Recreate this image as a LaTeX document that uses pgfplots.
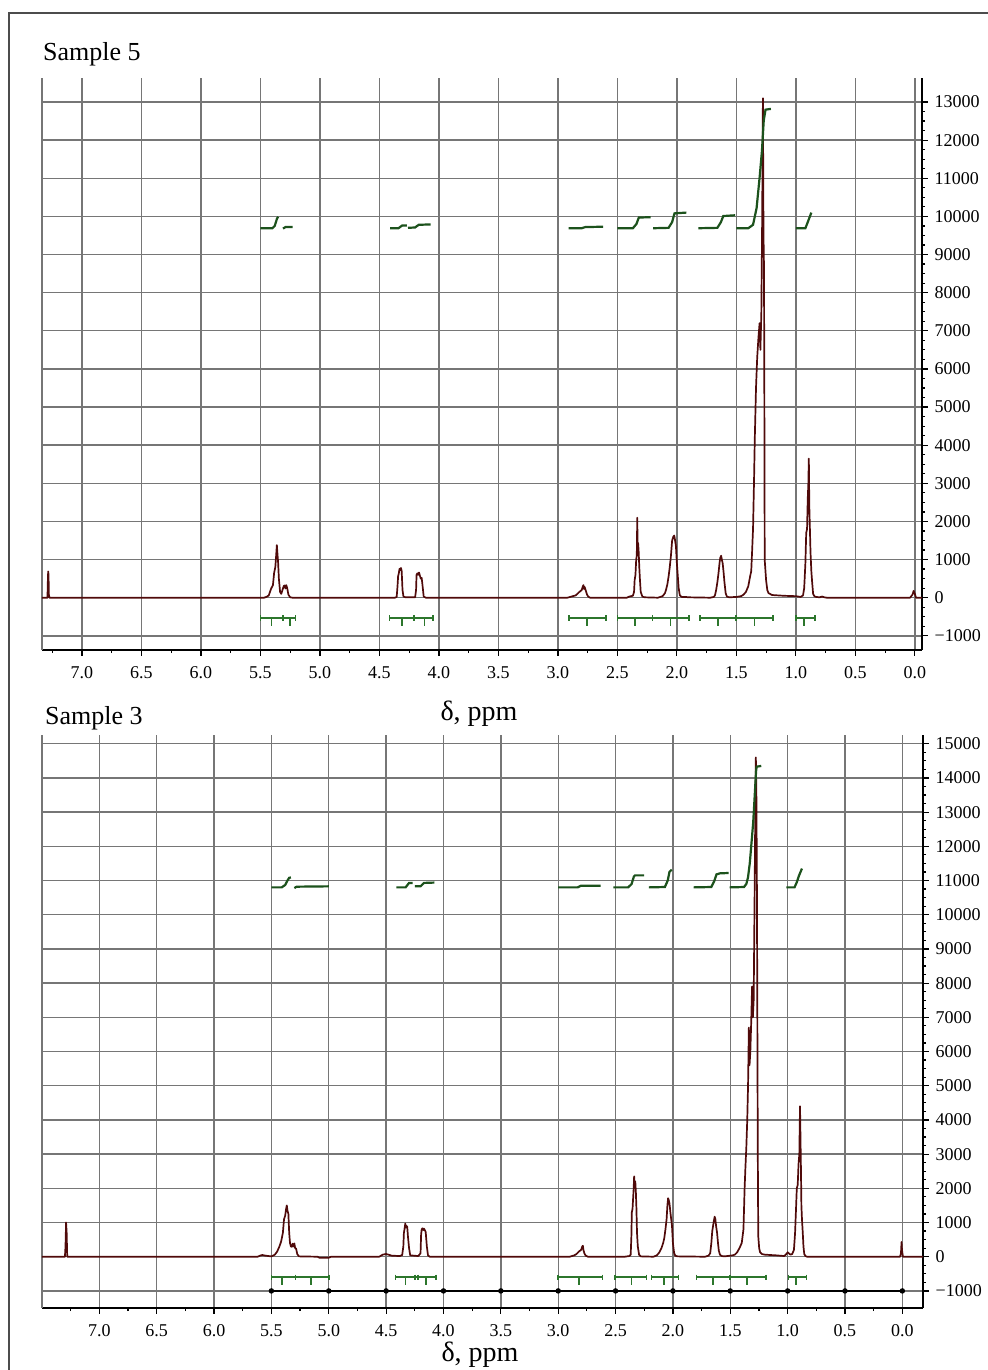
\documentclass[border=0pt]{standalone}
\usepackage{fontspec}
\setmainfont{Liberation Serif}
\usepackage{pgfplots}
\pgfplotsset{compat=1.18}

\definecolor{gridgray}{RGB}{118,118,118}
\definecolor{specred}{RGB}{80,10,10}
\definecolor{intgreen}{RGB}{28,82,28}
\definecolor{brkgreen}{RGB}{44,118,44}

\pgfplotsset{
  nmr/.style={
    scale only axis,
    x dir=reverse,
    axis x line*=bottom,
    axis y line*=right,
    axis line style={-, black, line width=1.4pt},
    tick align=outside,
    tick style={black, line width=0.6pt},
    major tick length=2.8pt,
    minor tick length=1.6pt,
    scaled y ticks=false,
    xtick={0,0.5,1,1.5,2,2.5,3,3.5,4,4.5,5,5.5,6,6.5,7},
    xticklabels={0.0,0.5,1.0,1.5,2.0,2.5,3.0,3.5,4.0,4.5,5.0,5.5,6.0,6.5,7.0},
    minor xtick={0.25,0.75,1.25,1.75,2.25,2.75,3.25,3.75,4.25,4.75,5.25,5.75,6.25,6.75,7.25},
    minor y tick num=3,
    grid=major,
    major grid style={gridgray, line width=0.7pt},
    ticklabel style={font=\fontsize{9}{10}\selectfont},
    xticklabel style={yshift=-2pt},
    extra x tick labels={},
    extra x tick style={grid=major, major tick length=0pt},
    unbounded coords=jump,
  },
  spec/.style={specred, line width=0.85pt, line join=round},
  integ/.style={intgreen, line width=1.1pt},
  brk/.style={brkgreen, line width=0.8pt},
  cap/.style={brkgreen, only marks, mark=|, mark size=1.3pt, mark options={line width=0.8pt}},
}

\begin{document}
\begin{tikzpicture}
\useasboundingbox (0,0) rectangle (494pt,-685pt);
\draw[gray!60!black, line width=1pt] (4.5pt,-685pt) -- (4.5pt,-6.5pt) -- (494pt,-6.5pt);

% ---------------- Sample 5 ----------------
\begin{axis}[nmr,
  at={(21pt,-325pt)}, anchor=south west,
  width=440pt, height=286pt,
  xmin=-0.06, xmax=7.336,
  ymin=-1372, ymax=13630,
  ytick={-1000,0,1000,2000,3000,4000,5000,6000,7000,8000,9000,10000,11000,12000,13000},
  yticklabels={−1000,0,1000,2000,3000,4000,5000,6000,7000,8000,9000,10000,11000,12000,13000},
  extra x ticks={7.336},
]
\addplot[spec] coordinates {
(7.336,0)(7.29,0)(7.287,400)(7.284,690)(7.281,600)(7.278,80)(7.274,0)
(5.47,0)(5.45,20)(5.43,60)(5.41,240)(5.395,330)(5.385,650)(5.375,800)(5.368,1100)(5.362,1380)(5.357,1150)(5.352,950)(5.345,500)(5.335,150)(5.325,100)(5.315,200)(5.305,300)(5.298,320)(5.29,240)(5.283,330)(5.275,250)(5.265,80)(5.25,10)(5.23,0)
(4.37,0)(4.355,20)(4.348,300)(4.343,560)(4.337,640)(4.331,760)(4.325,720)(4.319,780)(4.313,700)(4.306,200)(4.298,30)(4.28,10)
(4.20,10)(4.192,200)(4.188,600)(4.181,640)(4.174,600)(4.167,660)(4.16,580)(4.152,500)(4.145,520)(4.137,300)(4.128,30)(4.11,0)
(2.92,0)(2.875,40)(2.85,60)(2.82,150)(2.80,200)(2.79,300)(2.785,330)(2.78,230)(2.775,280)(2.765,180)(2.755,80)(2.745,30)(2.73,0)
(2.42,0)(2.40,30)(2.37,50)(2.36,150)(2.355,460)(2.348,600)(2.342,1000)(2.337,1100)(2.333,2100)(2.33,1300)(2.326,1440)(2.321,1200)(2.316,800)(2.311,500)(2.304,150)(2.29,30)(2.27,10)
(2.16,0)(2.12,40)(2.10,120)(2.09,220)(2.08,350)(2.07,550)(2.06,800)(2.05,1100)(2.04,1500)(2.03,1600)(2.022,1630)(2.015,1500)(2.008,1350)(2.00,900)(1.993,600)(1.985,250)(1.975,60)(1.96,20)(1.93,20)(1.90,10)
(1.72,0)(1.69,20)(1.68,60)(1.67,200)(1.66,400)(1.65,650)(1.64,950)(1.635,1050)(1.628,1100)(1.622,1000)(1.615,900)(1.607,650)(1.60,400)(1.59,120)(1.58,30)(1.56,10)(1.50,20)
(1.46,40)(1.44,80)(1.42,150)(1.40,300)(1.385,550)(1.375,700)(1.368,1200)(1.36,1800)(1.352,3000)(1.345,4200)(1.335,5500)(1.325,6300)(1.315,6800)(1.305,7200)(1.298,6500)(1.29,7500)(1.283,10000)(1.277,13100)(1.272,9500)(1.268,8700)(1.265,5500)(1.262,1000)(1.25,450)(1.24,200)(1.23,120)(1.20,70)(1.10,50)(1.00,40)
(0.96,20)(0.94,60)(0.93,250)(0.92,900)(0.913,1700)(0.906,1800)(0.90,2600)(0.895,3000)(0.891,3650)(0.887,2400)(0.882,1800)(0.877,1200)(0.87,700)(0.863,400)(0.855,100)(0.845,40)(0.83,20)(0.80,10)(0.78,30)(0.76,10)(0.74,0)
(0.04,0)(0.02,80)(0.01,180)(0.0,100)(-0.01,0)(-0.06,0)
};
\addplot[integ] coordinates {
(5.50,9690)(5.40,9690)(5.38,9750)(5.36,9950)(5.35,9990)
(5.34,nan)
(5.31,9680)(5.29,9720)(5.23,9720)
(5.2,nan)
(4.41,9690)(4.34,9690)(4.31,9760)(4.27,9760)
(4.265,nan)
(4.26,9700)(4.20,9710)(4.17,9780)(4.07,9790)
(4.0,nan)
(2.91,9690)(2.80,9690)(2.77,9720)(2.62,9730)
(2.6,nan)
(2.50,9690)(2.37,9690)(2.34,9800)(2.32,9970)(2.22,9980)
(2.21,nan)
(2.20,9690)(2.07,9700)(2.04,9850)(2.02,10080)(1.92,10100)
(1.9,nan)
(1.82,9690)(1.66,9700)(1.63,9850)(1.61,10010)(1.51,10030)
(1.505,nan)
(1.50,9690)(1.40,9690)(1.36,9780)(1.33,10220)(1.305,11010)(1.285,11720)(1.27,12515)(1.255,12800)(1.21,12820)
(1.1,nan)
(1.00,9690)(0.92,9690)(0.90,9850)(0.87,10100)
};
\addplot[brk] coordinates {
(5.50,-530)(5.206,-530) (5.1,nan)
(4.414,-530)(4.05,-530) (3.5,nan)
(2.907,-530)(2.598,-530) (2.55,nan)
(2.5,-530)(1.896,-530) (1.85,nan)
(1.806,-530)(1.194,-530) (1.1,nan)
(1.0,-530)(0.837,-530)
};
\addplot[brk] coordinates {
(5.406,-530)(5.406,-750) (5.4,nan)
(5.25,-530)(5.25,-750) (5.2,nan)
(4.31,-530)(4.31,-750) (4.3,nan)
(4.12,-530)(4.12,-750) (4.1,nan)
(2.753,-530)(2.753,-750) (2.7,nan)
(2.354,-530)(2.354,-750) (2.3,nan)
(2.053,-530)(2.053,-750) (2.0,nan)
(1.652,-530)(1.652,-750) (1.6,nan)
(1.348,-530)(1.348,-750) (1.3,nan)
(0.93,-530)(0.93,-750)
};
\addplot[cap] coordinates {
(5.50,-530)(5.206,-530)(5.31,-530)
(4.414,-530)(4.05,-530)(4.21,-530)
(2.907,-530)(2.598,-530)
(2.5,-530)(1.896,-530)(2.205,-530)
(1.806,-530)(1.194,-530)(1.503,-530)
(1.0,-530)(0.837,-530)
};
\end{axis}

% ---------------- Sample 3 ----------------
\begin{axis}[nmr,
  at={(21pt,-654pt)}, anchor=south west,
  width=440.5pt, height=286.5pt,
  xmin=-0.18, xmax=7.5,
  ymin=-1500, ymax=15255,
  ytick={-1000,0,1000,2000,3000,4000,5000,6000,7000,8000,9000,10000,11000,12000,13000,14000,15000},
  yticklabels={−1000,0,1000,2000,3000,4000,5000,6000,7000,8000,9000,10000,11000,12000,13000,14000,15000},
  extra x ticks={7.5},
]
\addplot[spec] coordinates {
(7.5,0)(7.30,0)(7.295,300)(7.29,1000)(7.285,700)(7.28,0)
(5.62,0)(5.60,30)(5.58,50)(5.55,30)(5.50,10)(5.47,60)(5.45,150)(5.43,300)(5.415,450)(5.40,700)(5.39,1100)(5.38,1200)(5.372,1400)(5.366,1500)(5.36,1350)(5.352,1250)(5.345,700)(5.338,400)(5.33,300)(5.322,290)(5.315,380)(5.308,300)(5.30,390)(5.293,250)(5.285,240)(5.275,80)(5.26,10)(5.10,0)(5.08,-30)(5.0,-30)(4.98,0)
(4.56,0)(4.53,60)(4.50,80)(4.45,30)(4.38,20)(4.36,50)(4.35,300)(4.345,700)(4.34,800)(4.333,970)(4.327,850)(4.322,900)(4.316,870)(4.31,600)(4.30,250)(4.29,40)(4.22,20)
(4.20,100)(4.195,650)(4.19,800)(4.183,830)(4.176,780)(4.17,820)(4.163,780)(4.155,720)(4.145,300)(4.135,40)(4.12,0)
(2.90,0)(2.86,40)(2.84,80)(2.82,150)(2.80,200)(2.79,300)(2.785,320)(2.78,200)(2.772,100)(2.76,30)(2.74,0)
(2.42,0)(2.38,20)(2.368,60)(2.362,600)(2.358,1300)(2.352,1400)(2.347,1700)(2.342,2000)(2.338,2350)(2.333,2100)(2.328,2200)(2.323,1900)(2.318,1400)(2.313,700)(2.306,300)(2.295,60)(2.28,10)
(2.17,0)(2.14,40)(2.12,120)(2.10,250)(2.085,400)(2.075,550)(2.065,800)(2.055,1100)(2.048,1500)(2.042,1710)(2.036,1650)(2.03,1560)(2.022,1300)(2.015,1100)(2.008,900)(2.0,400)(1.99,120)(1.98,30)(1.96,10)
(1.72,0)(1.69,30)(1.675,100)(1.665,400)(1.657,750)(1.65,900)(1.643,1050)(1.636,1170)(1.63,1100)(1.623,880)(1.615,700)(1.607,400)(1.60,180)(1.59,60)(1.575,20)(1.55,10)
(1.48,40)(1.46,60)(1.44,130)(1.42,250)(1.40,400)(1.385,800)(1.375,2000)(1.368,2600)(1.36,3200)(1.352,4000)(1.345,5000)(1.338,6700)(1.332,5600)(1.325,6000)(1.318,6800)(1.31,7900)(1.303,7000)(1.296,7500)(1.288,10500)(1.282,13000)(1.277,14600)(1.272,13400)(1.268,11000)(1.264,7000)(1.26,3000)(1.256,600)(1.248,250)(1.24,130)(1.225,80)(1.20,60)(1.10,40)
(1.03,20)(1.01,80)(1.0,130)(0.99,100)(0.975,60)(0.96,80)(0.945,200)(0.935,700)(0.928,1300)(0.92,2000)(0.912,2100)(0.905,2700)(0.898,3000)(0.892,4400)(0.888,3500)(0.884,2600)(0.88,1500)(0.875,1100)(0.868,700)(0.862,300)(0.855,80)(0.845,20)(0.83,0)
(0.02,0)(0.012,100)(0.007,430)(0.003,200)(-0.005,0)(-0.18,0)
};
\addplot[integ] coordinates {
(5.50,10800)(5.41,10800)(5.38,10870)(5.36,11000)(5.345,11080)(5.33,11090)
(5.32,nan)
(5.30,10780)(5.28,10820)(5.00,10830)
(4.9,nan)
(4.41,10800)(4.33,10800)(4.30,10930)(4.27,10930)
(4.26,nan)
(4.25,10830)(4.20,10830)(4.17,10930)(4.08,10940)
(3.5,nan)
(3.00,10800)(2.83,10800)(2.80,10850)(2.63,10850)
(2.6,nan)
(2.52,10800)(2.39,10800)(2.36,10900)(2.34,11120)(2.33,11150)(2.25,11150)
(2.22,nan)
(2.21,10800)(2.07,10810)(2.045,11000)(2.03,11250)(2.01,11320)
(1.9,nan)
(1.82,10800)(1.665,10810)(1.64,10980)(1.62,11180)(1.59,11210)(1.515,11220)
(1.51,nan)
(1.505,10800)(1.38,10810)(1.36,10900)(1.345,11100)(1.33,11500)(1.315,12100)(1.30,12700)(1.29,13300)(1.28,13900)(1.275,14200)(1.27,14330)(1.23,14350)
(1.1,nan)
(1.01,10800)(0.94,10800)(0.92,10950)(0.90,11150)(0.875,11350)
};
\addplot[brk] coordinates {
(5.50,-600)(5.00,-600) (4.9,nan)
(4.42,-600)(4.065,-600) (3.5,nan)
(3.0,-600)(2.613,-600) (2.55,nan)
(2.506,-600)(2.23,-600) (2.2,nan)
(2.186,-600)(1.953,-600) (1.9,nan)
(1.794,-600)(1.189,-600) (1.1,nan)
(0.994,-600)(0.834,-600)
};
\addplot[brk] coordinates {
(5.41,-600)(5.41,-830) (5.3,nan)
(5.155,-600)(5.155,-830) (5.1,nan)
(4.33,-600)(4.33,-830) (4.3,nan)
(4.15,-600)(4.15,-830) (4.1,nan)
(2.817,-600)(2.817,-830) (2.7,nan)
(2.36,-600)(2.36,-830) (2.3,nan)
(2.076,-600)(2.076,-830) (2.0,nan)
(1.648,-600)(1.648,-830) (1.6,nan)
(1.352,-600)(1.352,-830) (1.3,nan)
(0.927,-600)(0.927,-830)
};
\addplot[cap] coordinates {
(5.50,-600)(5.00,-600)(5.29,-600)
(4.42,-600)(4.065,-600)(4.25,-600)(4.22,-600)
(3.0,-600)(2.613,-600)
(2.506,-600)(2.23,-600)
(2.186,-600)(1.953,-600)
(1.794,-600)(1.189,-600)(1.503,-600)
(0.994,-600)(0.834,-600)
};
\addplot[black, line width=0.7pt, mark=*, mark size=1pt] coordinates {
(5.5,-1000)(5.0,-1000)(4.5,-1000)(4.0,-1000)(3.5,-1000)(3.0,-1000)(2.5,-1000)(2.0,-1000)(1.5,-1000)(1.0,-1000)(0.5,-1000)(0.0,-1000)
};
\end{axis}

\node[anchor=base west, font=\fontsize{13}{15}\selectfont] at (18pt,-30.5pt) {Sample 5};
\node[anchor=base, font=\fontsize{14}{16}\selectfont] at (239.5pt,-360pt) {δ, ppm};
\node[anchor=base west, font=\fontsize{13}{15}\selectfont] at (19pt,-362pt) {Sample 3};
\node[anchor=base, font=\fontsize{14}{16}\selectfont] at (240pt,-680.5pt) {δ, ppm};
\end{tikzpicture}
\end{document}
